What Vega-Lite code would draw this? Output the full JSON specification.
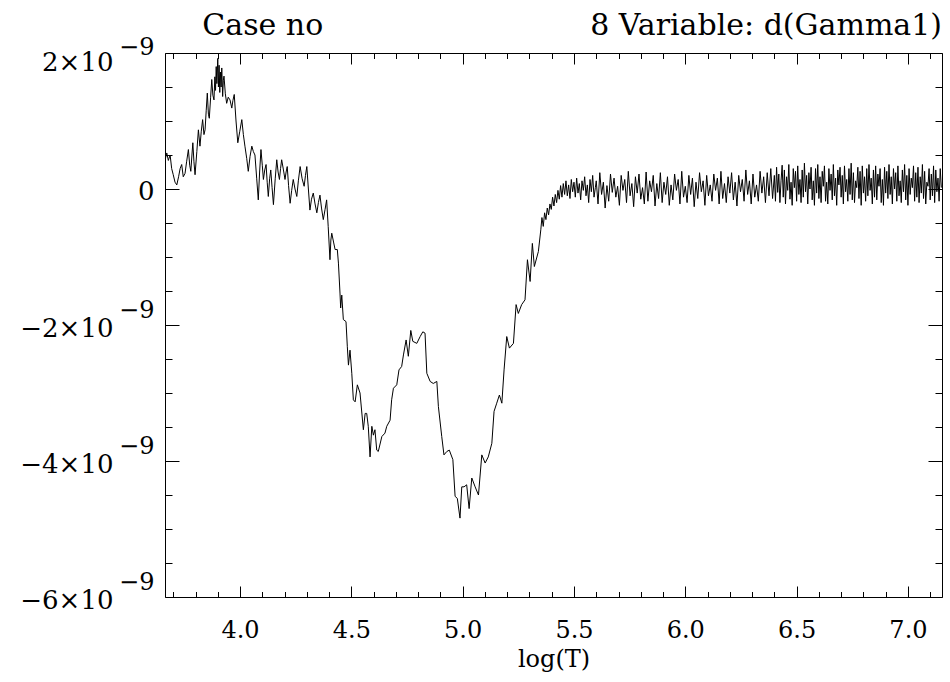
{
"$schema": "https://vega.github.io/schema/vega-lite/v6.json",
"width": 777, "height": 544,
"autosize": "none",
"padding": {"left": 165, "top": 53, "right": 8, "bottom": 85},
"background": "white",
"config": {
  "font": "DejaVu Serif, serif",
  "view": {"stroke": "black", "strokeWidth": 1},
  "title": {"font": "DejaVu Serif, serif", "fontWeight": "normal", "color": "black"},
  "axis": {"domain": false, "grid": false, "tickColor": "black", "tickWidth": 1, "labelColor": "black", "labelFont": "DejaVu Serif", "labelFontSize": 24, "titleFont": "DejaVu Serif, serif", "titleFontSize": 24, "titleFontWeight": "normal", "titleColor": "black", "labelOverlap": false, "labelFlush": false, "labelBound": false}
},
"title": {"text": "Case no\u00a0\u00a0\u00a0\u00a0\u00a0\u00a0\u00a0\u00a0\u00a0\u00a0\u00a0\u00a0\u00a0\u00a0\u00a0\u00a0\u00a0\u00a0\u00a0\u00a0\u00a0\u00a0\u00a0\u00a0\u00a0\u00a0\u00a0\u00a08 Variable: d(Gamma1)", "anchor": "end", "frame": "group", "font": "DejaVu Serif, serif", "fontSize": 30, "fontWeight": "normal", "color": "black", "baseline": "alphabetic", "offset": -30},
"data": {"values": [
{"logT":3.665,"dGamma1":0.45e-9},{"logT":3.671,"dGamma1":0.53e-9},{"logT":3.678,"dGamma1":0.42e-9},{"logT":3.686,"dGamma1":0.50e-9},{"logT":3.693,"dGamma1":0.30e-9},{"logT":3.700,"dGamma1":0.21e-9},{"logT":3.708,"dGamma1":0.10e-9},{"logT":3.716,"dGamma1":0.06e-9},{"logT":3.724,"dGamma1":0.18e-9},{"logT":3.731,"dGamma1":0.30e-9},
{"logT":3.738,"dGamma1":0.36e-9},{"logT":3.745,"dGamma1":0.18e-9},{"logT":3.753,"dGamma1":0.23e-9},{"logT":3.760,"dGamma1":0.40e-9},{"logT":3.768,"dGamma1":0.58e-9},{"logT":3.774,"dGamma1":0.35e-9},{"logT":3.779,"dGamma1":0.26e-9},{"logT":3.784,"dGamma1":0.50e-9},{"logT":3.788,"dGamma1":0.68e-9},{"logT":3.793,"dGamma1":0.40e-9},
{"logT":3.798,"dGamma1":0.21e-9},{"logT":3.806,"dGamma1":0.55e-9},{"logT":3.813,"dGamma1":0.87e-9},{"logT":3.820,"dGamma1":0.63e-9},{"logT":3.826,"dGamma1":0.85e-9},{"logT":3.832,"dGamma1":1.02e-9},{"logT":3.838,"dGamma1":0.80e-9},{"logT":3.843,"dGamma1":0.87e-9},{"logT":3.848,"dGamma1":1.15e-9},{"logT":3.853,"dGamma1":1.41e-9},
{"logT":3.858,"dGamma1":1.10e-9},{"logT":3.862,"dGamma1":1.04e-9},{"logT":3.868,"dGamma1":1.35e-9},{"logT":3.873,"dGamma1":1.61e-9},{"logT":3.878,"dGamma1":1.38e-9},{"logT":3.883,"dGamma1":1.31e-9},{"logT":3.887,"dGamma1":1.65e-9},{"logT":3.890,"dGamma1":1.45e-9},{"logT":3.893,"dGamma1":1.80e-9},{"logT":3.896,"dGamma1":1.55e-9},
{"logT":3.900,"dGamma1":1.92e-9},{"logT":3.903,"dGamma1":1.50e-9},{"logT":3.906,"dGamma1":1.82e-9},{"logT":3.909,"dGamma1":1.42e-9},{"logT":3.912,"dGamma1":1.72e-9},{"logT":3.915,"dGamma1":1.50e-9},{"logT":3.918,"dGamma1":1.78e-9},{"logT":3.922,"dGamma1":1.36e-9},{"logT":3.925,"dGamma1":1.60e-9},{"logT":3.928,"dGamma1":1.66e-9},
{"logT":3.934,"dGamma1":1.40e-9},{"logT":3.940,"dGamma1":1.26e-9},{"logT":3.947,"dGamma1":1.35e-9},{"logT":3.955,"dGamma1":1.31e-9},{"logT":3.963,"dGamma1":1.19e-9},{"logT":3.968,"dGamma1":1.30e-9},{"logT":3.974,"dGamma1":1.39e-9},{"logT":3.982,"dGamma1":1.00e-9},{"logT":3.990,"dGamma1":0.68e-9},{"logT":3.999,"dGamma1":0.85e-9},
{"logT":4.008,"dGamma1":1.02e-9},{"logT":4.015,"dGamma1":0.80e-9},{"logT":4.022,"dGamma1":0.63e-9},{"logT":4.030,"dGamma1":0.45e-9},{"logT":4.037,"dGamma1":0.26e-9},{"logT":4.045,"dGamma1":0.48e-9},{"logT":4.053,"dGamma1":0.63e-9},{"logT":4.060,"dGamma1":0.55e-9},{"logT":4.067,"dGamma1":0.50e-9},{"logT":4.075,"dGamma1":0.15e-9},
{"logT":4.082,"dGamma1":-0.16e-9},{"logT":4.088,"dGamma1":0.25e-9},{"logT":4.094,"dGamma1":0.58e-9},{"logT":4.100,"dGamma1":0.35e-9},{"logT":4.105,"dGamma1":0.14e-9},{"logT":4.111,"dGamma1":0.28e-9},{"logT":4.117,"dGamma1":0.36e-9},{"logT":4.122,"dGamma1":0.10e-9},{"logT":4.127,"dGamma1":-0.11e-9},{"logT":4.133,"dGamma1":0.15e-9},
{"logT":4.138,"dGamma1":0.28e-9},{"logT":4.144,"dGamma1":0.02e-9},{"logT":4.150,"dGamma1":-0.23e-9},{"logT":4.158,"dGamma1":0.15e-9},{"logT":4.165,"dGamma1":0.43e-9},{"logT":4.171,"dGamma1":0.25e-9},{"logT":4.177,"dGamma1":0.14e-9},{"logT":4.182,"dGamma1":0.30e-9},{"logT":4.187,"dGamma1":0.43e-9},{"logT":4.195,"dGamma1":0.28e-9},
{"logT":4.202,"dGamma1":0.14e-9},{"logT":4.207,"dGamma1":0.25e-9},{"logT":4.212,"dGamma1":0.33e-9},{"logT":4.218,"dGamma1":0.05e-9},{"logT":4.225,"dGamma1":-0.21e-9},{"logT":4.232,"dGamma1":-0.02e-9},{"logT":4.239,"dGamma1":0.14e-9},{"logT":4.247,"dGamma1":0.00e-9},{"logT":4.255,"dGamma1":-0.11e-9},{"logT":4.262,"dGamma1":0.12e-9},
{"logT":4.270,"dGamma1":0.33e-9},{"logT":4.279,"dGamma1":0.15e-9},{"logT":4.288,"dGamma1":0.04e-9},{"logT":4.294,"dGamma1":0.20e-9},{"logT":4.300,"dGamma1":0.33e-9},{"logT":4.307,"dGamma1":0.00e-9},{"logT":4.314,"dGamma1":-0.31e-9},{"logT":4.321,"dGamma1":-0.15e-9},{"logT":4.329,"dGamma1":-0.06e-9},{"logT":4.337,"dGamma1":-0.22e-9},
{"logT":4.345,"dGamma1":-0.35e-9},{"logT":4.352,"dGamma1":-0.20e-9},{"logT":4.359,"dGamma1":-0.09e-9},{"logT":4.366,"dGamma1":-0.28e-9},{"logT":4.374,"dGamma1":-0.45e-9},{"logT":4.382,"dGamma1":-0.30e-9},{"logT":4.389,"dGamma1":-0.16e-9},{"logT":4.396,"dGamma1":-0.55e-9},{"logT":4.404,"dGamma1":-1.04e-9},{"logT":4.408,"dGamma1":-0.75e-9},
{"logT":4.412,"dGamma1":-0.65e-9},{"logT":4.420,"dGamma1":-0.78e-9},{"logT":4.427,"dGamma1":-0.89e-9},{"logT":4.437,"dGamma1":-0.89e-9},{"logT":4.442,"dGamma1":-1.09e-9},{"logT":4.449,"dGamma1":-1.53e-9},{"logT":4.452,"dGamma1":-1.75e-9},{"logT":4.457,"dGamma1":-1.56e-9},{"logT":4.464,"dGamma1":-1.92e-9},{"logT":4.476,"dGamma1":-1.95e-9},
{"logT":4.482,"dGamma1":-2.32e-9},{"logT":4.487,"dGamma1":-2.59e-9},{"logT":4.494,"dGamma1":-2.37e-9},{"logT":4.502,"dGamma1":-2.71e-9},{"logT":4.509,"dGamma1":-3.10e-9},{"logT":4.517,"dGamma1":-3.13e-9},{"logT":4.527,"dGamma1":-2.88e-9},{"logT":4.539,"dGamma1":-3.00e-9},{"logT":4.554,"dGamma1":-3.54e-9},{"logT":4.562,"dGamma1":-3.30e-9},
{"logT":4.569,"dGamma1":-3.30e-9},{"logT":4.576,"dGamma1":-3.49e-9},{"logT":4.584,"dGamma1":-3.94e-9},{"logT":4.592,"dGamma1":-3.49e-9},{"logT":4.599,"dGamma1":-3.62e-9},{"logT":4.606,"dGamma1":-3.54e-9},{"logT":4.614,"dGamma1":-3.84e-9},{"logT":4.621,"dGamma1":-3.86e-9},{"logT":4.637,"dGamma1":-3.64e-9},{"logT":4.651,"dGamma1":-3.59e-9},
{"logT":4.659,"dGamma1":-3.49e-9},{"logT":4.674,"dGamma1":-3.40e-9},{"logT":4.681,"dGamma1":-3.10e-9},{"logT":4.689,"dGamma1":-2.93e-9},{"logT":4.704,"dGamma1":-2.88e-9},{"logT":4.714,"dGamma1":-2.66e-9},{"logT":4.726,"dGamma1":-2.61e-9},{"logT":4.734,"dGamma1":-2.44e-9},{"logT":4.746,"dGamma1":-2.22e-9},{"logT":4.756,"dGamma1":-2.46e-9},
{"logT":4.767,"dGamma1":-2.08e-9},{"logT":4.776,"dGamma1":-2.24e-9},{"logT":4.794,"dGamma1":-2.27e-9},{"logT":4.809,"dGamma1":-2.17e-9},{"logT":4.821,"dGamma1":-2.10e-9},{"logT":4.831,"dGamma1":-2.12e-9},{"logT":4.839,"dGamma1":-2.71e-9},{"logT":4.854,"dGamma1":-2.83e-9},{"logT":4.868,"dGamma1":-2.86e-9},{"logT":4.884,"dGamma1":-2.83e-9},
{"logT":4.891,"dGamma1":-3.20e-9},{"logT":4.906,"dGamma1":-3.64e-9},{"logT":4.916,"dGamma1":-3.91e-9},{"logT":4.929,"dGamma1":-3.86e-9},{"logT":4.940,"dGamma1":-3.84e-9},{"logT":4.956,"dGamma1":-3.98e-9},{"logT":4.966,"dGamma1":-4.52e-9},{"logT":4.976,"dGamma1":-4.55e-9},{"logT":4.988,"dGamma1":-4.84e-9},{"logT":4.996,"dGamma1":-4.38e-9},
{"logT":5.006,"dGamma1":-4.38e-9},{"logT":5.018,"dGamma1":-4.35e-9},{"logT":5.029,"dGamma1":-4.70e-9},{"logT":5.041,"dGamma1":-4.25e-9},{"logT":5.056,"dGamma1":-4.38e-9},{"logT":5.071,"dGamma1":-4.50e-9},{"logT":5.086,"dGamma1":-3.91e-9},{"logT":5.101,"dGamma1":-4.03e-9},{"logT":5.115,"dGamma1":-3.94e-9},{"logT":5.131,"dGamma1":-3.74e-9},
{"logT":5.141,"dGamma1":-3.27e-9},{"logT":5.153,"dGamma1":-3.15e-9},{"logT":5.165,"dGamma1":-3.03e-9},{"logT":5.176,"dGamma1":-3.15e-9},{"logT":5.186,"dGamma1":-2.66e-9},{"logT":5.198,"dGamma1":-2.17e-9},{"logT":5.210,"dGamma1":-2.34e-9},{"logT":5.228,"dGamma1":-2.27e-9},{"logT":5.240,"dGamma1":-1.70e-9},{"logT":5.250,"dGamma1":-1.83e-9},
{"logT":5.265,"dGamma1":-1.70e-9},{"logT":5.280,"dGamma1":-1.63e-9},{"logT":5.291,"dGamma1":-1.04e-9},{"logT":5.303,"dGamma1":-1.36e-9},{"logT":5.313,"dGamma1":-0.80e-9},{"logT":5.322,"dGamma1":-1.14e-9},{"logT":5.340,"dGamma1":-0.92e-9},{"logT":5.351,"dGamma1":-0.60e-9},{"logT":5.356,"dGamma1":-0.42e-9},{"logT":5.362,"dGamma1":-0.55e-9},
{"logT":5.368,"dGamma1":-0.35e-9},{"logT":5.374,"dGamma1":-0.45e-9},{"logT":5.380,"dGamma1":-0.28e-9},{"logT":5.386,"dGamma1":-0.38e-9},{"logT":5.392,"dGamma1":-0.22e-9},{"logT":5.398,"dGamma1":-0.30e-9},{"logT":5.404,"dGamma1":-0.12e-9},{"logT":5.410,"dGamma1":-0.25e-9},{"logT":5.416,"dGamma1":-0.08e-9},{"logT":5.422,"dGamma1":-0.20e-9},
{"logT":5.428,"dGamma1":-0.02e-9},{"logT":5.434,"dGamma1":-0.15e-9},{"logT":5.440,"dGamma1":0.05e-9},{"logT":5.446,"dGamma1":-0.12e-9},{"logT":5.452,"dGamma1":0.08e-9},{"logT":5.458,"dGamma1":-0.08e-9},{"logT":5.464,"dGamma1":0.12e-9},{"logT":5.470,"dGamma1":-0.10e-9},{"logT":5.476,"dGamma1":0.06e-9},{"logT":5.482,"dGamma1":-0.14e-9},
{"logT":5.488,"dGamma1":0.14e-9},{"logT":5.494,"dGamma1":-0.04e-9},{"logT":5.500,"dGamma1":0.10e-9},{"logT":5.506,"dGamma1":-0.12e-9},{"logT":5.512,"dGamma1":0.16e-9},{"logT":5.518,"dGamma1":-0.06e-9},{"logT":5.524,"dGamma1":0.08e-9},{"logT":5.530,"dGamma1":-0.16e-9},{"logT":5.536,"dGamma1":0.12e-9},{"logT":5.542,"dGamma1":-0.02e-9},
{"logT":5.548,"dGamma1":0.18e-9},{"logT":5.554,"dGamma1":-0.10e-9},{"logT":5.560,"dGamma1":0.06e-9},{"logT":5.566,"dGamma1":-0.20e-9},{"logT":5.572,"dGamma1":0.14e-9},{"logT":5.578,"dGamma1":-0.04e-9},{"logT":5.584,"dGamma1":0.20e-9},{"logT":5.590,"dGamma1":-0.12e-9},{"logT":5.596,"dGamma1":0.02e-9},
{"logT":5.600,"dGamma1":0.12e-9},{"logT":5.608,"dGamma1":-0.22e-9},{"logT":5.616,"dGamma1":0.24e-9},{"logT":5.624,"dGamma1":-0.08e-9},{"logT":5.632,"dGamma1":0.10e-9},{"logT":5.640,"dGamma1":-0.28e-9},{"logT":5.648,"dGamma1":0.05e-9},{"logT":5.656,"dGamma1":-0.18e-9},{"logT":5.664,"dGamma1":0.22e-9},{"logT":5.672,"dGamma1":-0.05e-9},
{"logT":5.680,"dGamma1":0.16e-9},{"logT":5.688,"dGamma1":-0.12e-9},{"logT":5.696,"dGamma1":0.04e-9},{"logT":5.704,"dGamma1":-0.24e-9},{"logT":5.712,"dGamma1":0.20e-9},{"logT":5.720,"dGamma1":-0.02e-9},{"logT":5.728,"dGamma1":0.14e-9},{"logT":5.736,"dGamma1":-0.20e-9},{"logT":5.744,"dGamma1":0.26e-9},{"logT":5.752,"dGamma1":-0.10e-9},
{"logT":5.760,"dGamma1":0.08e-9},{"logT":5.768,"dGamma1":-0.26e-9},{"logT":5.776,"dGamma1":0.18e-9},{"logT":5.784,"dGamma1":-0.06e-9},{"logT":5.792,"dGamma1":0.22e-9},{"logT":5.800,"dGamma1":-0.15e-9},{"logT":5.808,"dGamma1":0.02e-9},{"logT":5.816,"dGamma1":-0.22e-9},{"logT":5.824,"dGamma1":0.25e-9},{"logT":5.832,"dGamma1":-0.18e-9},
{"logT":5.840,"dGamma1":0.12e-9},{"logT":5.848,"dGamma1":-0.04e-9},{"logT":5.856,"dGamma1":0.20e-9},{"logT":5.864,"dGamma1":-0.25e-9},{"logT":5.872,"dGamma1":0.08e-9},{"logT":5.880,"dGamma1":-0.14e-9},{"logT":5.888,"dGamma1":0.24e-9},{"logT":5.896,"dGamma1":-0.20e-9},{"logT":5.904,"dGamma1":0.10e-9},{"logT":5.912,"dGamma1":-0.08e-9},
{"logT":5.920,"dGamma1":0.18e-9},{"logT":5.928,"dGamma1":-0.24e-9},{"logT":5.936,"dGamma1":0.06e-9},{"logT":5.944,"dGamma1":-0.16e-9},{"logT":5.952,"dGamma1":0.22e-9},{"logT":5.960,"dGamma1":-0.02e-9},{"logT":5.968,"dGamma1":0.14e-9},{"logT":5.976,"dGamma1":-0.22e-9},{"logT":5.984,"dGamma1":0.26e-9},{"logT":5.992,"dGamma1":-0.12e-9},
{"logT":6.000,"dGamma1":0.04e-9},{"logT":6.008,"dGamma1":-0.20e-9},{"logT":6.016,"dGamma1":0.20e-9},{"logT":6.024,"dGamma1":-0.08e-9},{"logT":6.032,"dGamma1":0.16e-9},{"logT":6.040,"dGamma1":-0.26e-9},{"logT":6.048,"dGamma1":0.10e-9},{"logT":6.056,"dGamma1":-0.14e-9},{"logT":6.064,"dGamma1":0.24e-9},{"logT":6.072,"dGamma1":-0.04e-9},
{"logT":6.080,"dGamma1":0.12e-9},{"logT":6.088,"dGamma1":-0.24e-9},{"logT":6.096,"dGamma1":0.20e-9},{"logT":6.104,"dGamma1":-0.10e-9},{"logT":6.112,"dGamma1":0.06e-9},{"logT":6.120,"dGamma1":-0.18e-9},{"logT":6.128,"dGamma1":0.22e-9},{"logT":6.136,"dGamma1":-0.02e-9},{"logT":6.144,"dGamma1":0.16e-9},{"logT":6.152,"dGamma1":-0.22e-9},
{"logT":6.160,"dGamma1":0.26e-9},{"logT":6.168,"dGamma1":-0.14e-9},{"logT":6.176,"dGamma1":0.08e-9},{"logT":6.184,"dGamma1":-0.20e-9},{"logT":6.192,"dGamma1":0.18e-9},{"logT":6.200,"dGamma1":-0.06e-9},{"logT":6.208,"dGamma1":0.24e-9},{"logT":6.216,"dGamma1":-0.16e-9},{"logT":6.224,"dGamma1":0.10e-9},{"logT":6.232,"dGamma1":-0.25e-9},
{"logT":6.240,"dGamma1":0.20e-9},{"logT":6.248,"dGamma1":-0.04e-9},{"logT":6.256,"dGamma1":0.14e-9},{"logT":6.264,"dGamma1":-0.18e-9},{"logT":6.272,"dGamma1":0.28e-9},{"logT":6.280,"dGamma1":-0.08e-9},{"logT":6.288,"dGamma1":0.12e-9},{"logT":6.296,"dGamma1":-0.22e-9},{"logT":6.304,"dGamma1":0.22e-9},{"logT":6.312,"dGamma1":-0.12e-9},
{"logT":6.320,"dGamma1":0.06e-9},{"logT":6.328,"dGamma1":-0.18e-9},{"logT":6.336,"dGamma1":0.26e-9},{"logT":6.344,"dGamma1":-0.06e-9},{"logT":6.352,"dGamma1":0.18e-9},{"logT":6.360,"dGamma1":-0.20e-9},{"logT":6.368,"dGamma1":0.24e-9},{"logT":6.376,"dGamma1":-0.10e-9},{"logT":6.384,"dGamma1":0.30e-9},{"logT":6.392,"dGamma1":-0.14e-9},
{"logT":6.400,"dGamma1":0.20e-9},
{"logT":6.405,"dGamma1":-0.18e-9},{"logT":6.410,"dGamma1":0.32e-9},{"logT":6.415,"dGamma1":-0.05e-9},{"logT":6.420,"dGamma1":0.22e-9},{"logT":6.425,"dGamma1":-0.20e-9},{"logT":6.430,"dGamma1":0.12e-9},{"logT":6.435,"dGamma1":0.35e-9},{"logT":6.440,"dGamma1":-0.12e-9},{"logT":6.445,"dGamma1":0.28e-9},{"logT":6.450,"dGamma1":-0.22e-9},
{"logT":6.455,"dGamma1":0.18e-9},{"logT":6.460,"dGamma1":-0.02e-9},{"logT":6.465,"dGamma1":0.36e-9},{"logT":6.470,"dGamma1":-0.15e-9},{"logT":6.475,"dGamma1":0.10e-9},{"logT":6.480,"dGamma1":-0.24e-9},{"logT":6.485,"dGamma1":0.30e-9},{"logT":6.490,"dGamma1":0.02e-9},{"logT":6.495,"dGamma1":0.26e-9},{"logT":6.500,"dGamma1":-0.18e-9},
{"logT":6.505,"dGamma1":0.34e-9},{"logT":6.510,"dGamma1":-0.08e-9},{"logT":6.515,"dGamma1":0.14e-9},{"logT":6.520,"dGamma1":-0.20e-9},{"logT":6.525,"dGamma1":0.28e-9},{"logT":6.530,"dGamma1":-0.12e-9},{"logT":6.535,"dGamma1":0.38e-9},{"logT":6.540,"dGamma1":-0.04e-9},{"logT":6.545,"dGamma1":0.20e-9},{"logT":6.550,"dGamma1":-0.22e-9},
{"logT":6.555,"dGamma1":0.24e-9},{"logT":6.560,"dGamma1":0.00e-9},{"logT":6.565,"dGamma1":0.32e-9},{"logT":6.570,"dGamma1":-0.16e-9},{"logT":6.575,"dGamma1":0.12e-9},{"logT":6.580,"dGamma1":-0.24e-9},{"logT":6.585,"dGamma1":0.30e-9},{"logT":6.590,"dGamma1":-0.06e-9},{"logT":6.595,"dGamma1":0.36e-9},{"logT":6.600,"dGamma1":-0.14e-9},
{"logT":6.605,"dGamma1":0.18e-9},{"logT":6.610,"dGamma1":-0.20e-9},{"logT":6.615,"dGamma1":0.26e-9},{"logT":6.620,"dGamma1":0.04e-9},{"logT":6.625,"dGamma1":0.34e-9},{"logT":6.630,"dGamma1":-0.18e-9},{"logT":6.635,"dGamma1":0.10e-9},{"logT":6.640,"dGamma1":-0.22e-9},{"logT":6.645,"dGamma1":0.30e-9},{"logT":6.650,"dGamma1":-0.02e-9},
{"logT":6.655,"dGamma1":0.22e-9},{"logT":6.660,"dGamma1":-0.16e-9},{"logT":6.665,"dGamma1":0.36e-9},{"logT":6.670,"dGamma1":-0.10e-9},{"logT":6.675,"dGamma1":0.16e-9},{"logT":6.680,"dGamma1":-0.24e-9},{"logT":6.685,"dGamma1":0.28e-9},{"logT":6.690,"dGamma1":0.06e-9},{"logT":6.695,"dGamma1":0.32e-9},{"logT":6.700,"dGamma1":-0.12e-9},
{"logT":6.705,"dGamma1":0.20e-9},{"logT":6.710,"dGamma1":-0.22e-9},{"logT":6.715,"dGamma1":0.34e-9},{"logT":6.720,"dGamma1":-0.04e-9},{"logT":6.725,"dGamma1":0.14e-9},{"logT":6.730,"dGamma1":-0.18e-9},{"logT":6.735,"dGamma1":0.30e-9},{"logT":6.740,"dGamma1":-0.08e-9},{"logT":6.745,"dGamma1":0.38e-9},{"logT":6.750,"dGamma1":-0.16e-9},
{"logT":6.755,"dGamma1":0.24e-9},{"logT":6.760,"dGamma1":-0.20e-9},{"logT":6.765,"dGamma1":0.12e-9},{"logT":6.770,"dGamma1":0.02e-9},{"logT":6.775,"dGamma1":0.32e-9},{"logT":6.780,"dGamma1":-0.14e-9},{"logT":6.785,"dGamma1":0.26e-9},{"logT":6.790,"dGamma1":-0.24e-9},{"logT":6.795,"dGamma1":0.34e-9},{"logT":6.800,"dGamma1":-0.06e-9},
{"logT":6.805,"dGamma1":0.18e-9},{"logT":6.810,"dGamma1":-0.18e-9},{"logT":6.815,"dGamma1":0.30e-9},{"logT":6.820,"dGamma1":-0.10e-9},{"logT":6.825,"dGamma1":0.36e-9},{"logT":6.830,"dGamma1":-0.02e-9},{"logT":6.835,"dGamma1":0.16e-9},{"logT":6.840,"dGamma1":-0.22e-9},{"logT":6.845,"dGamma1":0.28e-9},{"logT":6.850,"dGamma1":-0.12e-9},
{"logT":6.855,"dGamma1":0.34e-9},{"logT":6.860,"dGamma1":-0.16e-9},{"logT":6.865,"dGamma1":0.22e-9},{"logT":6.870,"dGamma1":0.04e-9},{"logT":6.875,"dGamma1":0.30e-9},{"logT":6.880,"dGamma1":-0.20e-9},{"logT":6.885,"dGamma1":0.14e-9},{"logT":6.890,"dGamma1":-0.24e-9},{"logT":6.895,"dGamma1":0.32e-9},{"logT":6.900,"dGamma1":-0.06e-9},
{"logT":6.905,"dGamma1":0.26e-9},{"logT":6.910,"dGamma1":-0.14e-9},{"logT":6.915,"dGamma1":0.36e-9},{"logT":6.920,"dGamma1":-0.08e-9},{"logT":6.925,"dGamma1":0.18e-9},{"logT":6.930,"dGamma1":-0.22e-9},{"logT":6.935,"dGamma1":0.30e-9},{"logT":6.940,"dGamma1":0.00e-9},{"logT":6.945,"dGamma1":0.24e-9},{"logT":6.950,"dGamma1":-0.18e-9},
{"logT":6.955,"dGamma1":0.34e-9},{"logT":6.960,"dGamma1":-0.10e-9},{"logT":6.965,"dGamma1":0.12e-9},{"logT":6.970,"dGamma1":-0.20e-9},{"logT":6.975,"dGamma1":0.28e-9},{"logT":6.980,"dGamma1":-0.04e-9},{"logT":6.985,"dGamma1":0.36e-9},{"logT":6.990,"dGamma1":-0.16e-9},{"logT":6.995,"dGamma1":0.20e-9},{"logT":7.000,"dGamma1":-0.24e-9},
{"logT":7.005,"dGamma1":0.30e-9},{"logT":7.010,"dGamma1":-0.08e-9},{"logT":7.015,"dGamma1":0.16e-9},{"logT":7.020,"dGamma1":0.02e-9},{"logT":7.025,"dGamma1":0.34e-9},{"logT":7.030,"dGamma1":-0.18e-9},{"logT":7.035,"dGamma1":0.24e-9},{"logT":7.040,"dGamma1":-0.12e-9},{"logT":7.045,"dGamma1":0.32e-9},{"logT":7.050,"dGamma1":-0.20e-9},
{"logT":7.055,"dGamma1":0.18e-9},{"logT":7.060,"dGamma1":-0.06e-9},{"logT":7.065,"dGamma1":0.36e-9},{"logT":7.070,"dGamma1":-0.14e-9},{"logT":7.075,"dGamma1":0.26e-9},{"logT":7.080,"dGamma1":-0.22e-9},{"logT":7.085,"dGamma1":0.10e-9},{"logT":7.090,"dGamma1":0.04e-9},{"logT":7.095,"dGamma1":0.30e-9},{"logT":7.100,"dGamma1":-0.16e-9},
{"logT":7.105,"dGamma1":0.22e-9},{"logT":7.110,"dGamma1":-0.10e-9},{"logT":7.115,"dGamma1":0.34e-9},{"logT":7.120,"dGamma1":-0.20e-9},{"logT":7.125,"dGamma1":0.28e-9},{"logT":7.130,"dGamma1":-0.04e-9},{"logT":7.135,"dGamma1":0.16e-9},{"logT":7.140,"dGamma1":-0.18e-9},{"logT":7.145,"dGamma1":0.30e-9},{"logT":7.150,"dGamma1":0.02e-9}
]},
"layer": [
  {
    "mark": {"type": "line", "color": "black", "strokeWidth": 1},
    "encoding": {
      "x": {"field": "logT", "type": "quantitative", "scale": {"domain": [3.663, 7.153], "nice": false, "zero": false},
        "axis": {"orient": "bottom", "values": [3.7,3.8,3.9,4.0,4.1,4.2,4.3,4.4,4.5,4.6,4.7,4.8,4.9,5.0,5.1,5.2,5.3,5.4,5.5,5.6,5.7,5.8,5.9,6.0,6.1,6.2,6.3,6.4,6.5,6.6,6.7,6.8,6.9,7.0,7.1],
          "labelExpr": "abs(datum.value*2-round(datum.value*2))<0.01 ? format(datum.value,'.1f') : ''",
          "tickSize": {"condition": {"test": "abs(datum.value*2-round(datum.value*2))<0.01", "value": -11}, "value": -5.5},
          "labelPadding": 32, "title": "log(T)", "titlePadding": 0}},
      "y": {"field": "dGamma1", "type": "quantitative", "scale": {"domain": [-6e-9, 2e-9], "nice": false, "zero": false},
        "axis": {"orient": "left", "values": [-6e-9,-4e-9,-2e-9,2e-9], "ticks": false,
          "labelExpr": "(datum.value<0 ? '−' : '') + round(abs(datum.value)*1e9) + '×10'",
          "labelFontSize": 26, "labelPadding": 52,
          "labelOffset": {"condition": {"test": "datum.value==2e-9", "value": 9}, "value": 3},
          "title": null}}
    }
  },
  {
    "mark": {"type": "line", "strokeOpacity": 0},
    "encoding": {
      "x": {"field": "logT", "type": "quantitative",
        "axis": {"orient": "top", "values": [3.7,3.8,3.9,4.0,4.1,4.2,4.3,4.4,4.5,4.6,4.7,4.8,4.9,5.0,5.1,5.2,5.3,5.4,5.5,5.6,5.7,5.8,5.9,6.0,6.1,6.2,6.3,6.4,6.5,6.6,6.7,6.8,6.9,7.0,7.1],
          "labels": false,
          "tickSize": {"condition": {"test": "abs(datum.value*2-round(datum.value*2))<0.01", "value": -11}, "value": -5.5},
          "title": null}},
      "y": {"field": "dGamma1", "type": "quantitative",
        "axis": {"orient": "left", "values": [-6e-9,-4e-9,-2e-9,2e-9], "ticks": false,
          "labelExpr": "'−9'", "labelPadding": 11, "labelFontSize": 24,
          "labelOffset": {"condition": {"test": "datum.value==2e-9", "value": -6}, "value": -15},
          "title": null}}
    }
  },
  {
    "mark": {"type": "line", "strokeOpacity": 0},
    "encoding": {
      "x": {"field": "logT", "type": "quantitative", "axis": null},
      "y": {"field": "dGamma1", "type": "quantitative",
        "axis": {"orient": "right", "values": [-6e-9,-5.5e-9,-5e-9,-4.5e-9,-4e-9,-3.5e-9,-3e-9,-2.5e-9,-2e-9,-1.5e-9,-1e-9,-5e-10,0,5e-10,1e-9,1.5e-9,2e-9],
          "labels": false,
          "tickSize": {"condition": {"test": "abs(datum.value*5e8-round(datum.value*5e8))<0.01", "value": -14}, "value": -7},
          "title": null}}
    }
  },
  {
    "mark": {"type": "line", "strokeOpacity": 0},
    "encoding": {
      "x": {"field": "logT", "type": "quantitative", "axis": null},
      "y": {"field": "dGamma1", "type": "quantitative",
        "axis": {"orient": "left", "values": [-6e-9,-5.5e-9,-5e-9,-4.5e-9,-4e-9,-3.5e-9,-3e-9,-2.5e-9,-2e-9,-1.5e-9,-1e-9,-5e-10,0,5e-10,1e-9,1.5e-9,2e-9],
          "labels": false,
          "tickSize": {"condition": {"test": "abs(datum.value*5e8-round(datum.value*5e8))<0.01", "value": -14}, "value": -7},
          "title": null}}
    }
  },
  {
    "mark": {"type": "line", "strokeOpacity": 0},
    "encoding": {
      "x": {"field": "logT", "type": "quantitative", "axis": null},
      "y": {"field": "dGamma1", "type": "quantitative",
        "axis": {"orient": "left", "values": [0], "ticks": false,
          "labelExpr": "'0'", "labelPadding": 11, "labelFontSize": 26, "labelOffset": 2,
          "title": null}}
    }
  }
],
"resolve": {"axis": {"x": "independent", "y": "independent"}}
}
